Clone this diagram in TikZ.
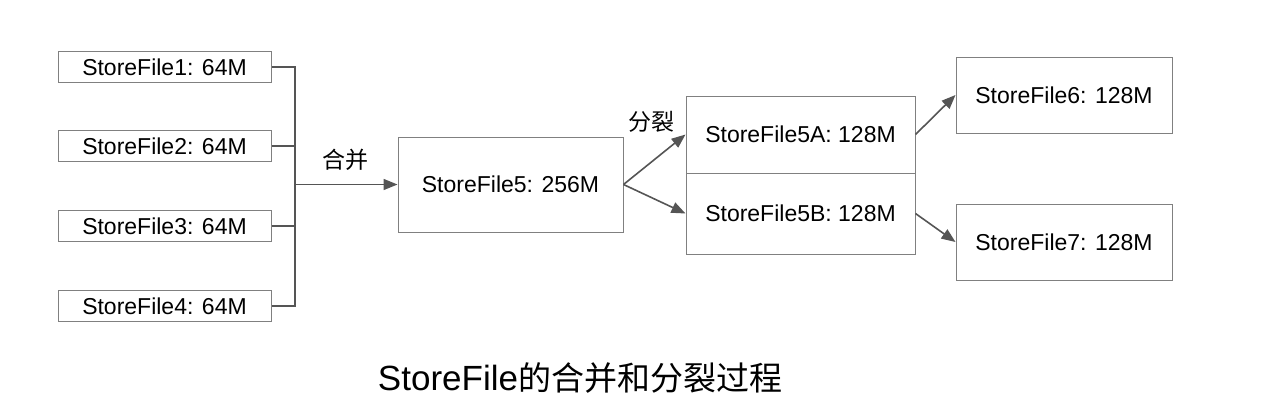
\documentclass[tikz,border=0pt]{standalone}
\usepackage{fontspec}
\setmainfont{Liberation Sans}
\newfontfamily\cjk{Noto Sans CJK SC}
\usetikzlibrary{arrows.meta,calc}
\definecolor{boxline}{HTML}{808080}
\definecolor{conn}{HTML}{555555}
\tikzset{
  fbox/.style={draw=boxline, line width=1pt, inner sep=0pt, font=\fontsize{23}{27}\selectfont, text=black},
  smallbox/.style={fbox, minimum width=213pt, minimum height=31pt},
  busline/.style={draw=conn, line width=2pt},
  arr/.style={draw=conn, line width=1.6pt, -{Triangle[length=14pt,width=11pt]}},
  lbl/.style={font=\cjk\fontsize{23}{27}\selectfont, inner sep=0pt}
}
\begin{document}
\begin{tikzpicture}[x=1pt,y=-1pt]
\useasboundingbox (0,0) rectangle (1281,418);
\node[smallbox] (b1) at (164.5,67) {StoreFile1: 64M};
\node[smallbox] (b2) at (164.5,146) {StoreFile2: 64M};
\node[smallbox] (b3) at (164.5,226) {StoreFile3: 64M};
\node[smallbox] (b4) at (164.5,306) {StoreFile4: 64M};
\node[fbox, minimum width=225pt, minimum height=95pt] (b5) at (510.5,184.5) {StoreFile5: 256M};
\node[fbox, minimum width=229pt, minimum height=77pt] (b5a) at (800.5,134.5) {StoreFile5A: 128M};
\node[fbox, minimum width=229pt, minimum height=81pt] (b5b) at (800.5,213.5) {StoreFile5B: 128M};
\node[fbox, minimum width=216pt, minimum height=76pt] (b6) at (1064,95) {StoreFile6: 128M};
\node[fbox, minimum width=216pt, minimum height=76pt] (b7) at (1064,242) {StoreFile7: 128M};
\coordinate (j) at (295,184.5);
\draw[busline] (b1.east) -- (b1.east -| j) -- (b4.east -| j) -- (b4.east);
\draw[busline] (b2.east) -- (b2.east -| j);
\draw[busline] (b3.east) -- (b3.east -| j);
\draw[arr] (j) -- (b5.west);
\draw[arr] (b5.east) -- (b5a.west);
\draw[arr] (b5.east) -- (b5b.west);
\draw[arr] (b5a.east) -- (b6.west);
\draw[arr] (b5b.east) -- (b7.west);
\node[lbl] (l1) at (345,160) {合并};
\node[lbl] (l2) at (651,122) {分裂};
\node[inner sep=0pt] (cap) at (580,378) {\fontsize{35}{40}\selectfont StoreFile{\cjk\fontsize{33}{40}\selectfont 的合并和分裂过程}};
\end{tikzpicture}
\end{document}
